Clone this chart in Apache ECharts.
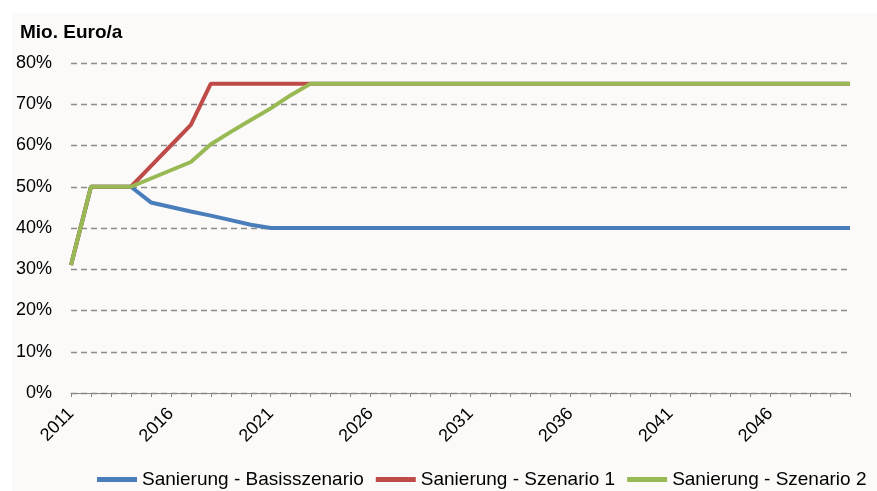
<!DOCTYPE html>
<html>
<head>
<meta charset="utf-8">
<script src="https://cdn.jsdelivr.net/npm/echarts@6/dist/echarts.min.js"></script>
<style>
  html, body { margin: 0; padding: 0; background: #ffffff; }
  #chart { width: 877px; height: 491px; }
</style>
</head>
<body>
<div id="chart"></div>
<script>
// Years 2011 to 2050
const years = [];
for (let y = 2011; y <= 2050; y++) years.push(String(y));

// Share in percent per year
const basisszenario = [31, 50, 50, 50, 46.2, 45.1, 44, 43, 41.9, 40.8, 40,
  40, 40, 40, 40, 40, 40, 40, 40, 40, 40, 40, 40, 40, 40, 40, 40, 40, 40, 40,
  40, 40, 40, 40, 40, 40, 40, 40, 40, 40];
const szenario1 = [31, 50, 50, 50, 55, 60, 65, 75, 75, 75, 75,
  75, 75, 75, 75, 75, 75, 75, 75, 75, 75, 75, 75, 75, 75, 75, 75, 75, 75, 75,
  75, 75, 75, 75, 75, 75, 75, 75, 75, 75];
const szenario2 = [31, 50, 50, 50, 52, 54, 56, 60.3, 63.3, 66.2, 69, 72.2,
  75, 75, 75, 75, 75, 75, 75, 75, 75, 75, 75, 75, 75, 75, 75, 75, 75, 75,
  75, 75, 75, 75, 75, 75, 75, 75, 75, 75];

const seriesNames = ['Sanierung - Basisszenario', 'Sanierung - Szenario 1', 'Sanierung - Szenario 2'];
const seriesColors = ['#4a7ebb', '#be4b48', '#98b954'];
const seriesData = [basisszenario, szenario1, szenario2];

const font = '"Liberation Sans", Arial, sans-serif';
const chart = echarts.init(document.getElementById('chart'));

chart.setOption({
  backgroundColor: '#ffffff',
  animation: false,
  graphic: [{
    type: 'rect',
    z: -10,
    silent: true,
    shape: { x: 12, y: 13, width: 865, height: 478 },
    style: { fill: '#fbfaf9' }
  }],
  title: {
    text: 'Mio. Euro/a',
    left: 15,
    top: 18,
    textStyle: { fontFamily: font, fontSize: 19, fontWeight: 'bold', color: '#000' }
  },
  legend: {
    left: 92,
    top: 465,
    width: 820,
    itemWidth: 40,
    itemHeight: 5,
    itemGap: 12,
    icon: 'rect',
    data: seriesNames,
    textStyle: { fontFamily: font, fontSize: 19, color: '#000' }
  },
  grid: { left: 71, right: 27, top: 63, bottom: 98, containLabel: false },
  xAxis: {
    type: 'category',
    data: years,
    boundaryGap: false,
    axisLine: { lineStyle: { color: '#868686', width: 1 } },
    axisTick: { show: true, length: 4, interval: 0, lineStyle: { color: '#868686' } },
    axisLabel: {
      interval: 4,
      rotate: 45,
      margin: 18,
      fontFamily: font,
      fontSize: 18,
      color: '#000'
    },
    splitLine: { show: false }
  },
  yAxis: {
    type: 'value',
    min: 0,
    max: 80,
    interval: 10,
    axisLine: { show: false },
    axisTick: { show: false },
    axisLabel: {
      formatter: '{value}%',
      margin: 19,
      fontFamily: font,
      fontSize: 18,
      color: '#000'
    },
    splitLine: { lineStyle: { color: '#8c8c8c', type: [6, 4], width: 1.3 } }
  },
  series: seriesNames.map((name, i) => ({
    name: name,
    type: 'line',
    data: seriesData[i],
    symbol: 'none',
    color: seriesColors[i],
    lineStyle: { width: 4, color: seriesColors[i] },
    z: 2 + i
  }))
});
</script>
</body>
</html>
